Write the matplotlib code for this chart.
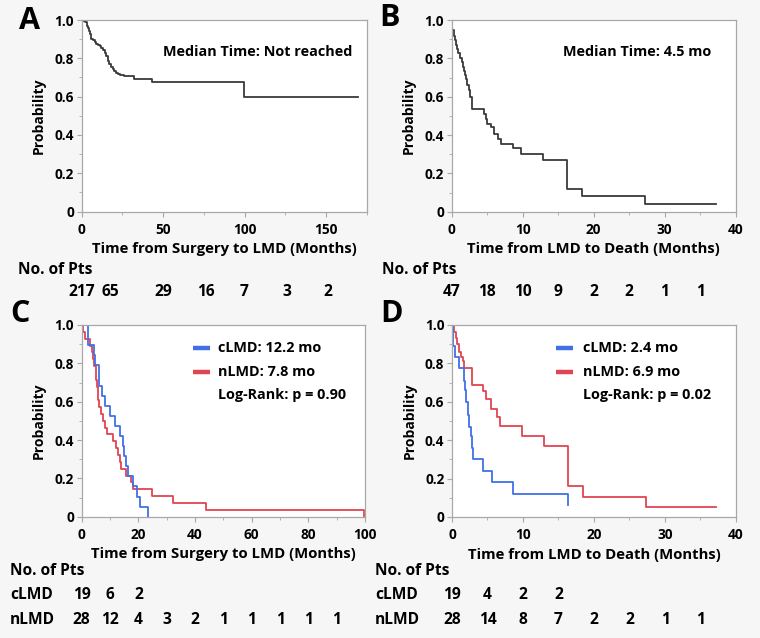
import matplotlib
matplotlib.use('Agg')
import matplotlib.pyplot as plt
import matplotlib.transforms as mtransforms
from matplotlib.ticker import MultipleLocator, FuncFormatter

W, H = 760, 638

# Font sizes
TICK_FS = 9.8
LABEL_FS = 10.7
NOTE_FS = 10.4
YLABEL_FS = 10
TABLE_FS = 11.2
LETTER_FS = 22

BG = '#f6f6f6'
SPINE = '#a8a8a8'
DARK = '#3a3a3a'
BLUE = '#4170e6'
RED = '#e04553'

plt.rcParams['font.family'] = ['Open Sans', 'DejaVu Sans']
plt.rcParams['font.weight'] = 'bold'

# Panel A: time from surgery to LMD (all patients)
a_times = [1, 2, 3, 3.5, 4, 4.5, 5, 5.5, 6, 7, 8, 9, 10, 11, 12, 13, 14, 15, 16, 17,
           18, 19, 20, 21, 22, 23.5, 26, 32, 43.3, 99.7]
a_surv = [0.996, 0.99, 0.98, 0.97, 0.957, 0.94, 0.925, 0.912, 0.903, 0.893, 0.883, 0.876,
          0.869, 0.862, 0.855, 0.845, 0.828, 0.81, 0.787, 0.77, 0.753, 0.742, 0.732, 0.725,
          0.72, 0.714, 0.707, 0.692, 0.676, 0.60]
a_end = 169.7
a_risk = [217, 65, 29, 16, 7, 3, 2]
a_risk_x = [0, 17.5, 50, 76, 100, 126, 151]

# Panel B: time from LMD to death (all patients)
b_times = [0.05, 0.1, 0.3, 0.5, 0.6, 0.8, 0.9, 1.1, 1.4, 1.6, 1.8, 1.9, 2.0, 2.1, 2.4,
           2.6, 2.8, 2.9, 4.5, 4.8, 5.0, 5.5, 5.9, 6.5, 6.9, 8.6, 9.7, 12.9, 16.3, 18.4, 27.3]
b_surv = [0.98, 0.95, 0.915, 0.895, 0.87, 0.85, 0.826, 0.80, 0.78, 0.755, 0.735, 0.713,
          0.69, 0.66, 0.635, 0.60, 0.565, 0.535, 0.51, 0.485, 0.46, 0.44, 0.405, 0.38,
          0.355, 0.33, 0.30, 0.27, 0.12, 0.08, 0.04]
b_end = 37.2
b_risk = [47, 18, 10, 9, 2, 2, 1, 1]
b_risk_x = [0, 5, 10, 15, 20, 25, 30, 35]

# Panel C: surgery to LMD by group
c_blue_times = [2.2, 4.3, 4.8, 6.0, 6.1, 7.2, 8.1, 9.9, 11.9, 13.5, 14.5, 14.9, 15.6,
                16.5, 18.0, 19.6, 20.6, 23.5]
c_blue_surv = [0.895, 0.842, 0.789, 0.737, 0.684, 0.632, 0.579, 0.526, 0.474, 0.421,
               0.368, 0.316, 0.263, 0.211, 0.158, 0.105, 0.053, 0.0]
c_blue_end = 23.5
c_red_times = [0.6, 1.2, 2.8, 3.5, 4.0, 4.5, 5.0, 5.2, 5.4, 5.6, 5.8, 6.0, 6.9, 7.5,
               8.2, 8.8, 11.2, 12.1, 12.9, 13.4, 13.8, 15.6, 17.3, 18.0, 24.9, 32.1,
               43.9, 99.8]
c_red_surv = [0.964, 0.929, 0.893, 0.857, 0.821, 0.786, 0.75, 0.714, 0.679, 0.643,
              0.607, 0.571, 0.536, 0.5, 0.464, 0.429, 0.393, 0.357, 0.321, 0.286, 0.25,
              0.214, 0.179, 0.143, 0.107, 0.071, 0.036, 0.0]
c_red_end = 99.8
c_risk_c = [19, 6, 2]
c_risk_n = [28, 12, 4, 3, 2, 1, 1, 1, 1, 1]
c_risk_x = [0, 10, 20, 30, 40, 50, 60, 70, 80, 90]

# Panel D: LMD to death by group
d_blue_times = [0.1, 0.15, 0.45, 1.0, 1.7, 1.9, 2.0, 2.3, 2.4, 2.65, 2.8, 3.0, 4.4,
                5.6, 8.6, 16.4]
d_blue_surv = [0.947, 0.89, 0.835, 0.775, 0.71, 0.66, 0.60, 0.53, 0.47, 0.42, 0.36,
               0.30, 0.24, 0.18, 0.12, 0.06]
d_blue_end = 16.4
d_red_times = [0.3, 0.6, 0.75, 1.0, 1.3, 1.5, 1.75, 2.8, 4.4, 4.8, 5.5, 6.4, 6.7, 9.8,
               12.9, 16.4, 18.4, 27.3]
d_red_surv = [0.965, 0.93, 0.90, 0.86, 0.835, 0.81, 0.775, 0.69, 0.655, 0.615, 0.56,
              0.52, 0.475, 0.42, 0.37, 0.16, 0.105, 0.053]
d_red_end = 37.2
d_risk_c = [19, 4, 2, 2]
d_risk_n = [28, 14, 8, 7, 2, 2, 1, 1]
d_risk_x = [0, 5, 10, 15, 20, 25, 30, 35]


def rect(x0, y0, x1, y1):
    return [x0 / W, 1 - y1 / H, (x1 - x0) / W, (y1 - y0) / H]


def fy(py):
    return 1 - py / H


def km(ax, times, surv, end, color):
    xs = [0] + list(times) + [end]
    ys = [1.0] + list(surv) + [surv[-1]]
    ax.step(xs, ys, where='post', color=color, lw=1.3)


def style(ax, xmax, major, minor, xlabel):
    ax.set_facecolor('white')
    ax.set_xlim(0, xmax)
    ax.set_ylim(0, 1.0)
    ax.xaxis.set_major_locator(MultipleLocator(major))
    ax.xaxis.set_minor_locator(MultipleLocator(minor))
    ax.yaxis.set_major_locator(MultipleLocator(0.2))
    ax.yaxis.set_minor_locator(MultipleLocator(0.1))
    ax.yaxis.set_major_formatter(FuncFormatter(lambda v, p: '0' if abs(v) < 1e-9 else '%.1f' % v))
    for s in ax.spines.values():
        s.set_color(SPINE)
        s.set_linewidth(0.9)
    ax.tick_params(which='major', length=3.5, color=SPINE, labelsize=TICK_FS, pad=2)
    ax.tick_params(axis='x', which='major', pad=4.5)
    ax.tick_params(which='minor', length=2, color=SPINE)
    ax.set_xlabel(xlabel, fontsize=LABEL_FS, fontweight='bold', labelpad=4)
    ax.set_ylabel('Probability', fontsize=YLABEL_FS, fontweight='bold', labelpad=6)


fig = plt.figure(figsize=(W / 100, H / 100), dpi=100, facecolor=BG)

ax_a = fig.add_axes(rect(81.7, 20, 366.7, 211.5))
ax_b = fig.add_axes(rect(451.7, 20, 735.5, 211.7))
ax_c = fig.add_axes(rect(81.7, 325, 365, 516.7))
ax_d = fig.add_axes(rect(452, 325, 736, 517))

style(ax_a, 175, 50, 25, 'Time from Surgery to LMD (Months)')
style(ax_b, 40, 10, 5, 'Time from LMD to Death (Months)')
style(ax_c, 100, 20, 10, 'Time from Surgery to LMD (Months)')
style(ax_d, 40, 10, 5, 'Time from LMD to Death (Months)')

km(ax_a, a_times, a_surv, a_end, DARK)
km(ax_b, b_times, b_surv, b_end, DARK)
km(ax_c, c_red_times, c_red_surv, c_red_end, RED)
km(ax_c, c_blue_times, c_blue_surv, c_blue_end, BLUE)
km(ax_d, d_red_times, d_red_surv, d_red_end, RED)
km(ax_d, d_blue_times, d_blue_surv, d_blue_end, BLUE)

# Median annotations
ax_a.text(0.285, 0.833, 'Median Time: Not reached', transform=ax_a.transAxes,
          fontsize=NOTE_FS, fontweight='bold', va='center')
ax_b.text(0.391, 0.833, 'Median Time: 4.5 mo', transform=ax_b.transAxes,
          fontsize=NOTE_FS, fontweight='bold', va='center')

# Legends
for ax, hx0, hx1, tx, lines in [
        (ax_c, 0.393, 0.453, 0.482, ['cLMD: 12.2 mo', 'nLMD: 7.8 mo', 'Log-Rank: p = 0.90']),
        (ax_d, 0.366, 0.425, 0.462, ['cLMD: 2.4 mo', 'nLMD: 6.9 mo', 'Log-Rank: p = 0.02'])]:
    for i, (yy, txt) in enumerate(zip([0.878, 0.756, 0.635], lines)):
        if i < 2:
            ax.plot([hx0, hx1], [yy, yy], transform=ax.transAxes, color=[BLUE, RED][i],
                    lw=3.2, solid_capstyle='butt')
        ax.text(tx, yy, txt, transform=ax.transAxes, fontsize=NOTE_FS,
                fontweight='bold', va='center')

# Panel letters
for x, y, letter in [(19, 21, 'A'), (379, 18, 'B'), (10, 314, 'C'), (380, 314, 'D')]:
    fig.text(x / W, fy(y), letter, fontsize=LETTER_FS, fontweight='bold', va='center')

# Number at risk tables
def risk_row(ax, xs, values, py):
    tr = mtransforms.blended_transform_factory(ax.transData, fig.transFigure)
    for x, v in zip(xs, values):
        ax.text(x, fy(py), str(v), transform=tr, ha='center', va='center',
                fontsize=TABLE_FS, fontweight='bold', clip_on=False)


fig.text(18 / W, fy(270), 'No. of Pts', fontsize=TABLE_FS, fontweight='bold', va='center')
risk_row(ax_a, a_risk_x, a_risk, 292)
fig.text(382 / W, fy(270), 'No. of Pts', fontsize=TABLE_FS, fontweight='bold', va='center')
risk_row(ax_b, b_risk_x, b_risk, 292)

for x0, ax, rc, rn, rx in [(10, ax_c, c_risk_c, c_risk_n, c_risk_x),
                           (375, ax_d, d_risk_c, d_risk_n, d_risk_x)]:
    fig.text(x0 / W, fy(571), 'No. of Pts', fontsize=TABLE_FS, fontweight='bold', va='center')
    fig.text(x0 / W, fy(595), 'cLMD', fontsize=TABLE_FS, fontweight='bold', va='center')
    fig.text(x0 / W, fy(620), 'nLMD', fontsize=TABLE_FS, fontweight='bold', va='center')
    risk_row(ax, rx[:len(rc)], rc, 595)
    risk_row(ax, rx, rn, 620)

fig.savefig('out.png', dpi=100, facecolor=BG)
